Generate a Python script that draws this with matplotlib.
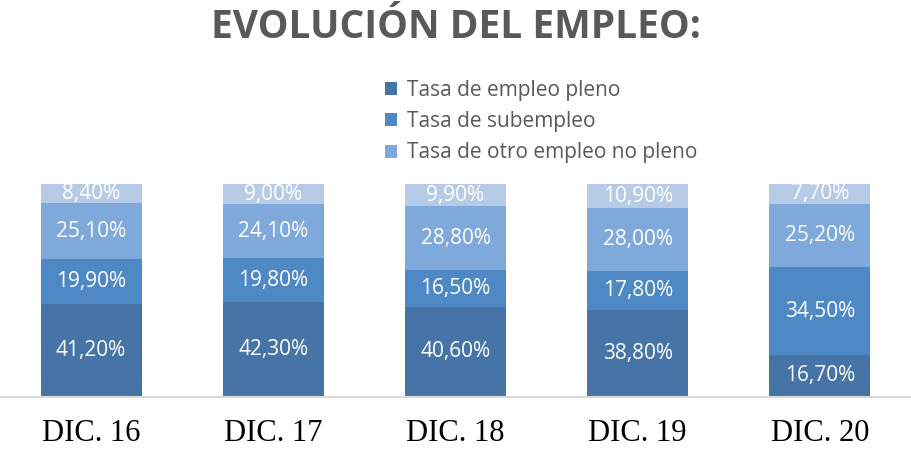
import matplotlib.pyplot as plt
import numpy as np

categorias = ['DIC. 16', 'DIC. 17', 'DIC. 18', 'DIC. 19', 'DIC. 20']
empleo_pleno = [41.2, 42.3, 40.6, 38.8, 16.7]
subempleo = [19.9, 19.8, 16.5, 17.8, 34.5]
otro_no_pleno = [25.1, 24.1, 28.8, 28.0, 25.2]
resto = [8.4, 9.0, 9.9, 10.9, 7.7]

series = [empleo_pleno, subempleo, otro_no_pleno, resto]
nombres = ['Tasa de empleo pleno', 'Tasa de subempleo', 'Tasa de otro empleo no pleno', None]
colores = ['#4674A7', '#4F89C5', '#7FA9DA', '#B7CBE6']

fig = plt.figure(figsize=(9.11, 4.5), dpi=100)
ax = fig.add_axes([0.0, 0.1178, 1.0, 0.4733])

x = np.arange(len(categorias))
total = np.sum(series, axis=0)
abajo = np.zeros(len(categorias))
handles = []
for vals, nombre, col in zip(series, nombres, colores):
    vals = np.array(vals)
    alto = vals / total
    b = ax.bar(x, alto, bottom=abajo, width=0.555, color=col, edgecolor='none')
    if nombre:
        handles.append((b, nombre))
    for xi, a, ab, v in zip(x, alto, abajo, vals):
        ax.text(xi, ab + a / 2, f'{v:.2f}%'.replace('.', ','), ha='center', va='center',
                color='white', fontsize=15, family='Open Sans')
    abajo += alto

ax.set_xlim(-0.5, 4.5)
ax.set_ylim(0, 1)
for s in ['top', 'right', 'left']:
    ax.spines[s].set_visible(False)
ax.spines['bottom'].set_color('#D9D9D9')
ax.spines['bottom'].set_linewidth(1.5)
ax.set_yticks([])
ax.set_xticks(x)
ax.set_xticklabels(categorias, family='Liberation Serif', fontsize=22, color='black')
ax.tick_params(axis='x', length=0, pad=16)

fig.text(0.5, 0.938, 'EVOLUCIÓN DEL EMPLEO:', ha='center', va='center', fontsize=28,
         fontweight='bold', family='Open Sans', color='#595959')

leg = fig.legend([h for h, _ in handles], [n for _, n in handles], loc='upper left',
                 bbox_to_anchor=(0.4226, 0.823), frameon=False,
                 handlelength=0.6, handleheight=0.6, handletextpad=0.45,
                 labelspacing=0.5, borderaxespad=0, borderpad=0,
                 prop={'family': 'Open Sans', 'size': 15})
for t in leg.get_texts():
    t.set_color('#595959')

fig.savefig('out.png', dpi=100)
